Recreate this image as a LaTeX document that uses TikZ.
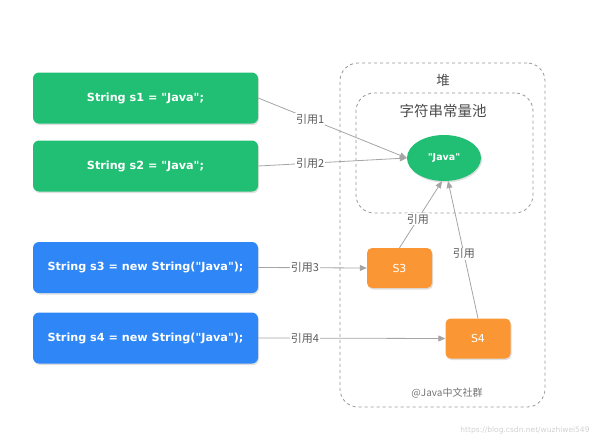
\documentclass[tikz,border=0pt]{standalone}
\usepackage{fontspec}
\setmainfont{DejaVu Sans}
\newfontfamily\codefont{DejaVu Sans}
\newfontfamily\cjk{Noto Sans CJK SC}
\usetikzlibrary{shapes.geometric,shadows,arrows.meta}

\definecolor{codegreen}{RGB}{33,191,115}
\definecolor{codeblue}{RGB}{47,134,246}
\definecolor{objorange}{RGB}{250,151,52}
\definecolor{linkgray}{RGB}{165,165,165}
\definecolor{heapgray}{RGB}{150,150,150}

\tikzset{
  stmt/.style={rounded corners=6pt, minimum width=225pt, minimum height=51pt,
    text=white, font=\codefont\bfseries\fontsize{11.2}{13}\selectfont,
    drop shadow={shadow xshift=1pt, shadow yshift=-1.5pt, opacity=0.25}},
  obj/.style={fill=objorange, rounded corners=5pt, minimum width=65pt, minimum height=40pt,
    text=white, font=\fontsize{11}{13}\selectfont,
    drop shadow={shadow xshift=1pt, shadow yshift=-1.5pt, opacity=0.25}},
  ref/.style={draw=linkgray, line width=0.8pt, -{Triangle[length=7pt,width=6pt]}},
  reflabel/.style={fill=white, inner sep=1pt, text=black!65, font=\cjk\fontsize{11}{13}\selectfont},
  region/.style={draw=heapgray, dashed, line width=0.8pt, rounded corners=18pt}
}

\begin{document}
\begin{tikzpicture}[x=1pt, y=-1pt]
  \useasboundingbox (0,0) rectangle (592,440);

  % heap and the string pool inside it
  \node[region, minimum width=205pt, minimum height=344pt] (heap) at (442.5,235) {};
  \node[region, minimum width=177pt, minimum height=120pt] (pool) at (444.5,153) {};
  \node[text=black!70, font=\cjk\fontsize{13.5}{15}\selectfont] (heaptitle) at (443,80) {堆};
  \node[text=black!70, font=\cjk\fontsize{14.5}{16}\selectfont] (pooltitle) at (443,111) {字符串常量池};

  % statements
  \node[stmt, fill=codegreen] (s1) at (145.5,98) {String s1 = "Java";};
  \node[stmt, fill=codegreen] (s2) at (145.5,166) {String s2 = "Java";};
  \node[stmt, fill=codeblue] (s3) at (145.5,267.5) {String s3 = new String("Java");};
  \node[stmt, fill=codeblue] (s4) at (145.5,338) {String s4 = new String("Java");};

  % objects
  \node[ellipse, fill=codegreen, minimum width=74pt, minimum height=46pt, text=white,
    font=\codefont\bfseries\fontsize{9.5}{11}\selectfont,
    drop shadow={shadow xshift=1pt, shadow yshift=-1.5pt, opacity=0.25}] (java) at (444,158) {"Java"};
  \node[obj] (o3) at (399.5,268) {S3};
  \node[obj] (o4) at (478,338.5) {S4};

  % references
  \draw[ref] (s1.east) -- node[reflabel, pos=0.35] {引用1} (java.west);
  \draw[ref] (s2.east) -- node[reflabel, pos=0.35] {引用2} (java.west);
  \draw[ref] (s3.east) -- node[reflabel, pos=0.43] {引用3} (o3.west);
  \draw[ref] (s4.east) -- node[reflabel, pos=0.25] {引用4} (o4.west);
  \draw[ref] (o3.north) -- node[reflabel, pos=0.43] {引用} (java.-95);
  \draw[ref] (o4.north) -- node[reflabel, pos=0.47] {引用} (java.-80);

  % watermarks
  \node[text=black!55, font=\cjk\fontsize{10}{12}\selectfont] (credit) at (447,393) {@Java中文社群};
  \node[text=black!18, font=\fontsize{7.5}{9}\selectfont] (site) at (525,430) {https://blog.csdn.net/wuzhiwei549};
\end{tikzpicture}
\end{document}
